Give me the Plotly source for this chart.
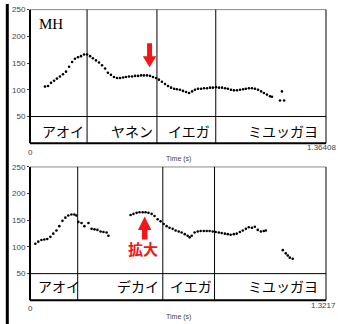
import plotly.graph_objects as go

W, H = 338, 324

# ---- upper panel (MH): F0 track, time in s / F0 in Hz ----
top_time = [0.069, 0.083, 0.097, 0.111, 0.124, 0.138, 0.152, 0.166, 0.180, 0.194,
            0.207, 0.221, 0.235, 0.249, 0.263, 0.277, 0.290, 0.304, 0.318, 0.332,
            0.346, 0.359, 0.373, 0.387, 0.401, 0.415, 0.429, 0.442, 0.456, 0.470,
            0.484, 0.498, 0.512, 0.525, 0.539, 0.553, 0.567, 0.581, 0.594, 0.608,
            0.622, 0.636, 0.650, 0.664, 0.677, 0.691, 0.705, 0.719, 0.733, 0.747,
            0.760, 0.774, 0.788, 0.802, 0.816, 0.830, 0.843, 0.857, 0.871, 0.885,
            0.899, 0.912, 0.926, 0.940, 0.954, 0.968, 0.982, 0.995, 1.009, 1.023,
            1.037, 1.051, 1.065, 1.078, 1.092, 1.106, 1.115, 1.152, 1.161, 1.171]
top_f0 = [106, 107, 113, 117, 121, 125, 129, 134, 143, 152,
          158, 161, 163, 166, 166, 163, 159, 155, 151, 146,
          140, 132, 128, 124, 122, 122, 123, 124, 125, 125,
          126, 126, 127, 127, 127, 126, 124, 122, 119, 115,
          111, 107, 104, 102, 101, 100, 98, 96, 94, 97,
          100, 102, 102, 103, 103, 104, 104, 105, 104, 104,
          103, 102, 100, 99, 99, 100, 101, 102, 103, 103,
          102, 100, 97, 94, 91, 88, 87, 80, 97, 80]
top_end = 1.36408
top_bounds = [0.263, 0.585, 0.856]
top_labels = ["アオイ", "ヤネン", "イエガ", "ミユッガヨ"]
top_label_t = [0.154, 0.470, 0.733, 1.166]

# ---- lower panel: F0 track ----
bot_time = [0.024, 0.037, 0.051, 0.064, 0.077, 0.091, 0.104, 0.118, 0.131, 0.145,
            0.158, 0.171, 0.185, 0.198, 0.207, 0.216, 0.230, 0.243, 0.261, 0.275,
            0.288, 0.301, 0.315, 0.328, 0.342, 0.350,
            0.449, 0.462, 0.476, 0.489, 0.503, 0.516, 0.529, 0.543, 0.556, 0.570,
            0.583, 0.597, 0.610, 0.623, 0.637, 0.650, 0.664, 0.677, 0.691, 0.704,
            0.713, 0.722, 0.735, 0.749, 0.762, 0.776, 0.789, 0.802, 0.816, 0.829,
            0.843, 0.856, 0.870, 0.883, 0.896, 0.910, 0.923, 0.937, 0.950, 0.964,
            0.977, 0.991, 1.004, 1.017, 1.031, 1.044, 1.053,
            1.129, 1.142, 1.151, 1.160, 1.173]
bot_f0 = [106, 110, 113, 114, 115, 119, 125, 131, 139, 149,
          155, 159, 161, 161, 159, 147, 145, 139, 145, 134,
          133, 132, 129, 128, 127, 121,
          160, 162, 164, 165, 165, 165, 164, 162, 158, 152,
          148, 143, 139, 136, 134, 131, 129, 127, 124, 121,
          118, 121, 127, 129, 130, 130, 130, 130, 129, 128,
          127, 126, 125, 124, 123, 124, 125, 128, 131, 134,
          137, 136, 138, 132, 129, 130, 131,
          94, 88, 84, 80, 78]
bot_end = 1.3217
bot_bounds = [0.213, 0.593, 0.824]
bot_labels = ["アオイ", "デカイ", "イエガ", "ミユッガヨ"]
bot_label_t = [0.131, 0.480, 0.717, 1.129]

y_ticks = [50, 100, 150, 200, 250]

NUM_FONT = "Liberation Sans, Arial, sans-serif"
JP_FONT = "Noto Sans CJK JP, sans-serif"
RED = "#f21616"

fig = go.Figure()
fig.add_trace(go.Scatter(x=top_time, y=top_f0, mode="markers",
                         marker=dict(size=2.6, color="black"),
                         xaxis="x", yaxis="y", showlegend=False))
fig.add_trace(go.Scatter(x=bot_time, y=bot_f0, mode="markers",
                         marker=dict(size=2.6, color="black"),
                         xaxis="x2", yaxis="y2", showlegend=False))

xdom = [30 / W, 326 / W]
top_dom = [1 - 141 / H, 1 - 5.7 / H]
bot_dom = [1 - 300 / H, 1 - 165 / H]

yax = dict(range=[0, 250], tickvals=y_ticks, ticks="outside", ticklen=2,
           tickcolor="#444", tickfont=dict(family=NUM_FONT, size=8, color="#444"),
           showgrid=False, zeroline=False, showline=False, fixedrange=True)
xax = dict(showgrid=False, zeroline=False, showline=False, showticklabels=False,
           ticks="", domain=xdom)

fig.update_layout(
    width=W, height=H, margin=dict(l=0, r=0, t=0, b=0),
    paper_bgcolor="white", plot_bgcolor="white",
    xaxis=dict(xax, range=[0, top_end], anchor="y"),
    yaxis=dict(yax, domain=top_dom, anchor="x"),
    xaxis2=dict(xax, range=[0, bot_end], anchor="y2"),
    yaxis2=dict(yax, domain=bot_dom, anchor="x2"),
)

shapes = []
annotations = []


def panel(xr, yr, end, bounds, labels, label_t, label_y, axis_y):
    xd, yd = xr + " domain", yr + " domain"
    # frame
    shapes.append(dict(type="line", xref=xd, yref=yd, x0=0, x1=1, y0=1, y1=1,
                       line=dict(color="#8a8a8a", width=1)))
    shapes.append(dict(type="line", xref=xd, yref=yd, x0=1, x1=1, y0=0, y1=1,
                       line=dict(color="black", width=1)))
    shapes.append(dict(type="line", xref=xd, yref=yd, x0=0, x1=0, y0=0, y1=1,
                       line=dict(color="black", width=2)))
    shapes.append(dict(type="line", xref=xd, yref=yd, x0=0, x1=1, y0=0, y1=0,
                       line=dict(color="black", width=2)))
    # text tier separator
    shapes.append(dict(type="line", xref=xd, yref=yr, x0=0, x1=1, y0=50, y1=50,
                       line=dict(color="black", width=1)))
    # segment boundaries
    for b in bounds:
        shapes.append(dict(type="line", xref=xr, yref=yd, x0=b, x1=b, y0=0, y1=1,
                           line=dict(color="black", width=1)))
    for lab, t in zip(labels, label_t):
        annotations.append(dict(x=t, y=label_y, xref=xr, yref=yr, text=lab,
                                xanchor="center", yanchor="middle", showarrow=False,
                                font=dict(family=JP_FONT, size=14, color="black")))
    # time axis labels
    small = dict(family=NUM_FONT, size=8, color="#444")
    annotations.append(dict(x=0, y=axis_y[0], xref=xr, yref="paper", text="0",
                            xanchor="center", yanchor="middle", showarrow=False, font=small))
    annotations.append(dict(x=1, y=axis_y[1], xref="paper", yref="paper", text=f"{end:g}",
                            xanchor="right", yanchor="middle", showarrow=False, font=small))
    annotations.append(dict(x=end / 2, y=axis_y[2], xref=xr, yref="paper", text="Time (s)",
                            xanchor="center", yanchor="middle", showarrow=False,
                            font=dict(small, size=7)))


panel("x", "y", top_end, top_bounds, top_labels, top_label_t, 22,
      [1 - 150 / H, 1 - 145.7 / H, 1 - 157 / H])
panel("x2", "y2", bot_end, bot_bounds, bot_labels, bot_label_t, 27,
      [1 - 308.3 / H, 1 - 305.5 / H, 1 - 316.7 / H])


def arrow_path(t, tail, base, tip, half_head, half_shaft):
    pts = [(t - half_shaft, tail), (t + half_shaft, tail), (t + half_shaft, base),
           (t + half_head, base), (t, tip), (t - half_head, base), (t - half_shaft, base)]
    return "M " + " L ".join(f"{x},{y}" for x, y in pts) + " Z"


# downward arrow over the ヤネン peak
shapes.append(dict(type="path", xref="x", yref="y",
                   path=arrow_path(0.551, 187, 163, 142, 0.031, 0.0115),
                   fillcolor=RED, line=dict(width=0)))
# upward arrow under the デカイ peak
shapes.append(dict(type="path", xref="x2", yref="y2",
                   path=arrow_path(0.512, 114, 132, 157, 0.030, 0.0125),
                   fillcolor=RED, line=dict(width=0)))

annotations.append(dict(x=0.097, y=224, xref="x", yref="y", text="MH", showarrow=False,
                        xanchor="center", yanchor="middle",
                        font=dict(family="Liberation Serif, Times New Roman, serif", size=15,
                                  color="black")))
annotations.append(dict(x=0.503, y=98, xref="x2", yref="y2", text="<b>拡大</b>",
                        xanchor="center", yanchor="middle", showarrow=False,
                        font=dict(family=JP_FONT, size=15, color=RED)))

# heavy rule down the left edge
shapes.append(dict(type="line", xref="paper", yref="paper", x0=7.3 / W, x1=7.3 / W,
                   y0=0, y1=1, line=dict(color="black", width=3)))

fig.update_layout(shapes=shapes, annotations=annotations)
fig.write_html("out.html")
